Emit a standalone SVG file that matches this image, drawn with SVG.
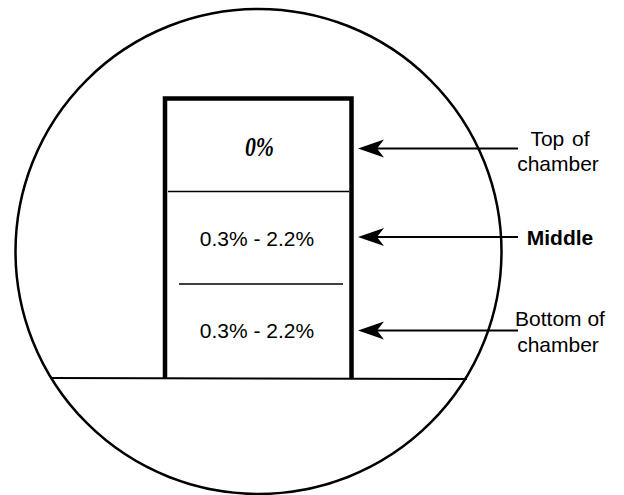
<svg xmlns="http://www.w3.org/2000/svg" width="624" height="495" viewBox="0 0 624 495">
  <style>
    .thin { fill: none; stroke: #000; stroke-width: 2; }
    .rim { fill: none; stroke: #000; stroke-width: 2.5; }
    .wall { fill: none; stroke: #000; stroke-width: 4.5; stroke-linejoin: miter; }
    .div { stroke: #000; stroke-width: 1.6; }
    .val { font-family: "Liberation Sans", Arial, sans-serif; font-size: 21px; fill: #000; text-anchor: middle; }
    .lbl { font-family: "Liberation Sans", Arial, sans-serif; font-size: 21px; fill: #000; text-anchor: middle; }
    .arrow { stroke: #000; stroke-width: 2; marker-end: url(#head); }
  </style>
  <defs>
    <marker id="head" markerUnits="userSpaceOnUse" viewBox="-28 -10 30 20" markerWidth="30" markerHeight="20" refX="-12" refY="0" orient="auto">
      <path d="M0,0 L-26,-9 L-19,0 L-26,9 Z" fill="#000"/>
    </marker>
  </defs>
  <rect width="624" height="495" fill="#fff"/>

  <!-- circular field of view with the floor line -->
  <g id="view">
    <ellipse class="rim" cx="258.5" cy="251.5" rx="243" ry="242.5"/>
    <line class="thin" x1="50" y1="378" x2="467" y2="379"/>
  </g>

  <!-- the chamber and its three zones -->
  <g id="chamber">
    <path class="wall" d="M165,378 V98.5 H351.5 V378"/>
    <line class="div" x1="168" y1="191.5" x2="349" y2="191.5"/>
    <line class="div" x1="179" y1="284" x2="343" y2="284"/>
  </g>
  <g id="zone-top">
    <text transform="translate(259.5 155.5) scale(0.78 1)" font-family="'Liberation Serif', 'Times New Roman', serif" font-size="28" font-weight="bold" font-style="italic" text-anchor="middle">0%</text>
  </g>
  <g id="zone-middle">
    <text class="val" x="257" y="246">0.3% - 2.2%</text>
  </g>
  <g id="zone-bottom">
    <text class="val" x="257" y="338">0.3% - 2.2%</text>
  </g>

  <!-- side labels -->
  <g id="label-top">
    <text class="lbl" x="560" y="146" word-spacing="2">Top of</text>
    <text class="lbl" x="558" y="171">chamber</text>
  </g>
  <g id="label-middle">
    <text class="lbl" x="560" y="244.5" font-size="20" font-weight="bold">Middle</text>
  </g>
  <g id="label-bottom">
    <text class="lbl" x="560" y="326">Bottom of</text>
    <text class="lbl" x="558" y="351.5">chamber</text>
  </g>

  <!-- pointers -->
  <g id="connectors">
    <line class="arrow" x1="518" y1="148.5" x2="370" y2="148.5"/>
    <line class="arrow" x1="518" y1="237" x2="370" y2="237"/>
    <line class="arrow" x1="518" y1="330.5" x2="370" y2="330.5"/>
  </g>
</svg>
